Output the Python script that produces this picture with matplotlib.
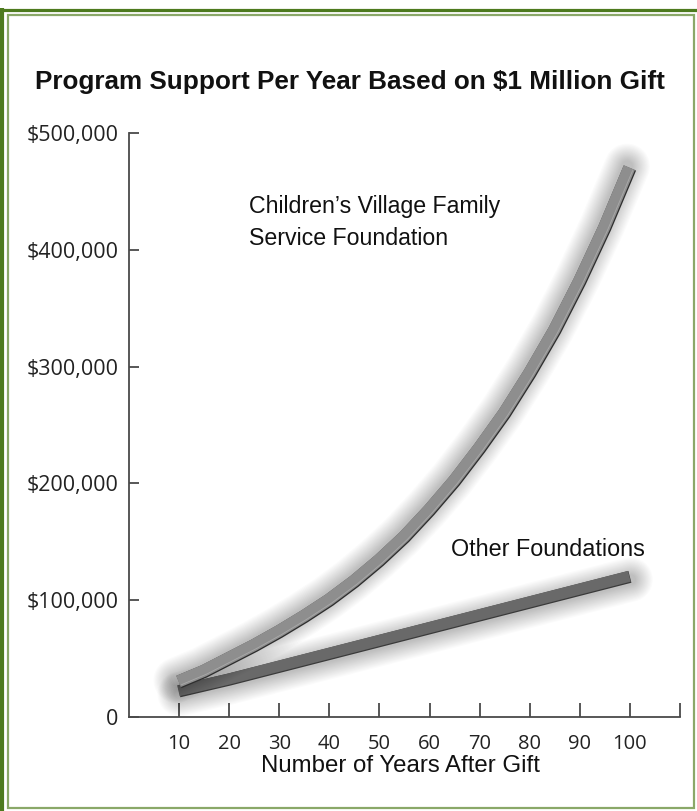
import matplotlib
matplotlib.use("Agg")
import matplotlib.pyplot as plt
import matplotlib.transforms as mtransforms
from matplotlib.patches import Rectangle
from matplotlib.lines import Line2D

# ---------------- data ----------------
years = [10, 15, 20, 25, 30, 35, 40, 45, 50, 55, 60, 65, 70, 75, 80, 85, 90, 95, 100]
cvfsf = [30000, 39000, 50000, 61000, 73000, 86000, 100000, 116000, 134000, 154000,
         177000, 202000, 230000, 260000, 294000, 331000, 373000, 419000, 470000]
other = [22000, 27000, 32000, 37500, 43000, 48500, 54000, 59500, 65000, 70500,
         76000, 81500, 87000, 92500, 98000, 103500, 109000, 114500, 120000]
x_ticks = [10, 20, 30, 40, 50, 60, 70, 80, 90, 100, 110]
x_tick_labels = ["10", "20", "30", "40", "50", "60", "70", "80", "90", "100", ""]
y_ticks = [0, 100000, 200000, 300000, 400000, 500000]
y_tick_labels = ["0", "$100,000", "$200,000", "$300,000", "$400,000", "$500,000"]
title = "Program Support Per Year Based on $1 Million Gift"
xlabel = "Number of Years After Gift"
label_cv = "Children\u2019s Village Family\nService Foundation"
label_other = "Other Foundations"

W, H = 697, 811
fig = plt.figure(figsize=(W / 100, H / 100), dpi=100)
fig.patch.set_facecolor("white")

def fx(p):
    return p / W

def fy(p):
    return 1 - p / H

# axes placement (pixels measured on reference)
left, right, top, bottom = 128.9, 680.0, 133.0, 717.0
ax = fig.add_axes([fx(left), fy(bottom), fx(right) - fx(left), (bottom - top) / H])
ax.set_xlim(0, 110)
ax.set_ylim(0, 500000)
ax.set_facecolor("none")

axis_col = "#4a4a4a"
for s in ["top", "right"]:
    ax.spines[s].set_visible(False)
for s in ["left", "bottom"]:
    ax.spines[s].set_color(axis_col)
    ax.spines[s].set_linewidth(1.3)

tick_font = "Open Sans"
ax.set_xticks(x_ticks)
ax.set_xticklabels(x_tick_labels, fontfamily=tick_font, fontsize=14.5, color="#222222")
ax.set_yticks(y_ticks)
ax.set_yticklabels(y_tick_labels, fontfamily=tick_font, fontsize=15.5, color="#222222")
ax.tick_params(axis="x", direction="in", length=10, width=1.3, color=axis_col, pad=12.5)
ax.tick_params(axis="y", direction="in", length=7, width=1.3, color=axis_col, pad=7.5)


def ribbon(x, y, face, edge, lw, z, sdx, sdy):
    # soft shadow
    for k in range(16):
        tr = mtransforms.offset_copy(ax.transData, fig=fig, x=sdx, y=sdy, units="points")
        ax.plot(x, y, color="black", lw=lw + 1.6 * k, alpha=0.015, transform=tr,
                solid_capstyle="round", solid_joinstyle="round", zorder=z)
    ax.plot(x, y, color=edge, lw=lw + 0.8, zorder=z + 1,
            solid_capstyle="butt", solid_joinstyle="round")
    tr2 = mtransforms.offset_copy(ax.transData, fig=fig, x=-0.4, y=0.4, units="points")
    ax.plot(x, y, color=face, lw=lw, transform=tr2, zorder=z + 2,
            solid_capstyle="butt", solid_joinstyle="round")


ribbon(years, other, "#696969", "#3a3a3a", 8.0, 3, 0.5, -2.0)
ribbon(years, cvfsf, "#8e8e8e", "#2e2e2e", 8.8, 6, -2.0, 1.2)

# highlight line near the lower edge of the CVFSF ribbon
trh = mtransforms.offset_copy(ax.transData, fig=fig, x=1.9, y=-1.9, units="points")
ax.plot(years, cvfsf, color="#aaaaaa", lw=0.6, transform=trh, zorder=9)

# annotations
ax.text(24.0, 447000, label_cv, fontfamily="Liberation Sans", fontsize=16.7,
        color="#111111", ha="left", va="top", linespacing=1.5, zorder=12)
ax.text(64.3, (bottom - 556) / (bottom - top) * 500000, label_other,
        fontfamily="Liberation Sans", fontsize=16.8, color="#111111",
        ha="left", va="baseline", zorder=12)

# title and x label
fig.text(fx(350), fy(89), title, fontfamily="Liberation Sans", fontweight="bold",
         fontsize=18.85, color="#111111", ha="center", va="baseline")
fig.text(fx(400), fy(772), xlabel, fontfamily="Liberation Sans", fontsize=17.3,
         color="#111111", ha="center", va="baseline")

# frame: outer dark green, inner light green
dark_green = "#4d7a1e"
light_green = "#8aa868"
fig.add_artist(Line2D([fx(2), fx(2)], [fy(8), 0], transform=fig.transFigure,
                      color=dark_green, lw=3.0, solid_capstyle="butt"))
fig.add_artist(Line2D([0, 1], [fy(9.5), fy(9.5)], transform=fig.transFigure,
                      color=dark_green, lw=2.3, solid_capstyle="butt"))
fig.add_artist(Rectangle((fx(7.5), fy(808)), fx(694) - fx(7.5), (808 - 15) / H,
                         transform=fig.transFigure, fill=False,
                         edgecolor=light_green, lw=1.6))

fig.savefig("out.png", dpi=100, facecolor="white")
